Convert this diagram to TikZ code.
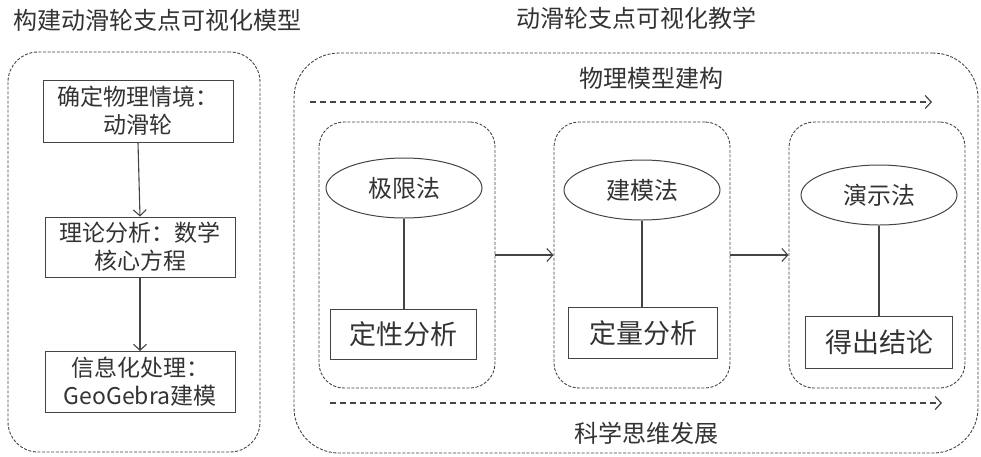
\documentclass[tikz,border=0pt]{standalone}
\usepackage{fontspec}
\setmainfont{Noto Sans CJK SC}
\usetikzlibrary{arrows.meta,shapes.geometric}
\definecolor{ln}{HTML}{444444}
\definecolor{tx}{HTML}{333333}
\tikzset{
  every node/.style={text=tx, font=\fontsize{23}{28}\selectfont},
  outerbox/.style={draw=ln, line width=0.9pt, dash pattern=on 3pt off 1.6pt, rounded corners=#1},
  stepbox/.style={draw=ln, line width=1pt, align=center, inner sep=0pt},
  oval/.style={draw=ln, line width=1pt, ellipse, inner sep=0pt},
  conn/.style={draw=ln, line width=1.1pt},
  arr/.style={conn, -{Straight Barb[length=6pt,width=13pt,line width=1.1pt]}},
  dasharr/.style={draw=ln, line width=1.2pt, dash pattern=on 6pt off 4pt, -{Straight Barb[length=6pt,width=13pt,line width=1.2pt]}},
}
\begin{document}
\begin{tikzpicture}[x=1pt,y=-1pt]
\useasboundingbox (0,0) rectangle (981,456);
% titles
\node[font=\fontsize{24}{28}\selectfont] (t1) at (157,20) {构建动滑轮支点可视化模型};
\node[font=\fontsize{24}{28}\selectfont] (t2) at (636,18) {动滑轮支点可视化教学};
% left outer box
\node[outerbox=30pt, minimum width=252pt, minimum height=400pt] (L) at (134,252) {};
\node[stepbox, minimum width=190pt, minimum height=62pt] (b1) at (138,111) {确定物理情境：\\动滑轮};
\node[stepbox, minimum width=190pt, minimum height=60pt] (b2) at (140,247) {理论分析：数学\\核心方程};
\node[stepbox, minimum width=190pt, minimum height=61pt] (b3) at (140,382) {信息化处理：\\GeoGebra建模};
\draw[arr] (b1.south) -- (b2.north);
\draw[arr] (b2.south) -- (b3.north);
% right outer box
\node[outerbox=45pt, minimum width=684pt, minimum height=400pt] (R) at (636,253) {};
\node[font=\fontsize{24}{28}\selectfont] (top) at (651,78) {物理模型建构};
\node[font=\fontsize{24}{28}\selectfont] (bot) at (646,433) {科学思维发展};
\coordinate (ta) at (310,102);
\coordinate (tb) at (932,102);
\coordinate (ba) at (330,403);
\coordinate (bb) at (942,403);
\draw[dasharr] (ta) -- (tb);
\draw[dasharr] (ba) -- (bb);
% inner boxes
\node[outerbox=25pt, minimum width=176pt, minimum height=266pt] (i1) at (407,255) {};
\node[outerbox=25pt, minimum width=176pt, minimum height=266pt] (i2) at (642,255) {};
\node[outerbox=25pt, minimum width=176pt, minimum height=266pt] (i3) at (877,255) {};
\draw[arr] (i1.east) -- (i2.west);
\draw[arr] (i2.east) -- (i3.west);
% ellipses
\node[oval, minimum width=156pt, minimum height=60pt, font=\fontsize{24}{28}\selectfont] (e1) at (404,188) {极限法};
\node[oval, minimum width=156pt, minimum height=60pt, font=\fontsize{24}{28}\selectfont] (e2) at (642,190) {建模法};
\node[oval, minimum width=156pt, minimum height=60pt, font=\fontsize{24}{28}\selectfont] (e3) at (879,195) {演示法};
% rects
\node[stepbox, minimum width=146pt, minimum height=50pt, font=\fontsize{27}{31}\selectfont] (r1) at (403,334) {定性分析};
\node[stepbox, minimum width=149pt, minimum height=51pt, font=\fontsize{27}{31}\selectfont] (r2) at (643,333) {定量分析};
\node[stepbox, minimum width=147pt, minimum height=52pt, font=\fontsize{27}{31}\selectfont] (r3) at (879,342) {得出结论};
\draw[conn] (e1.south) -- (e1.south |- r1.north);
\draw[conn] (e2.south) -- (e2.south |- r2.north);
\draw[conn] (e3.south) -- (e3.south |- r3.north);
\end{tikzpicture}
\end{document}
